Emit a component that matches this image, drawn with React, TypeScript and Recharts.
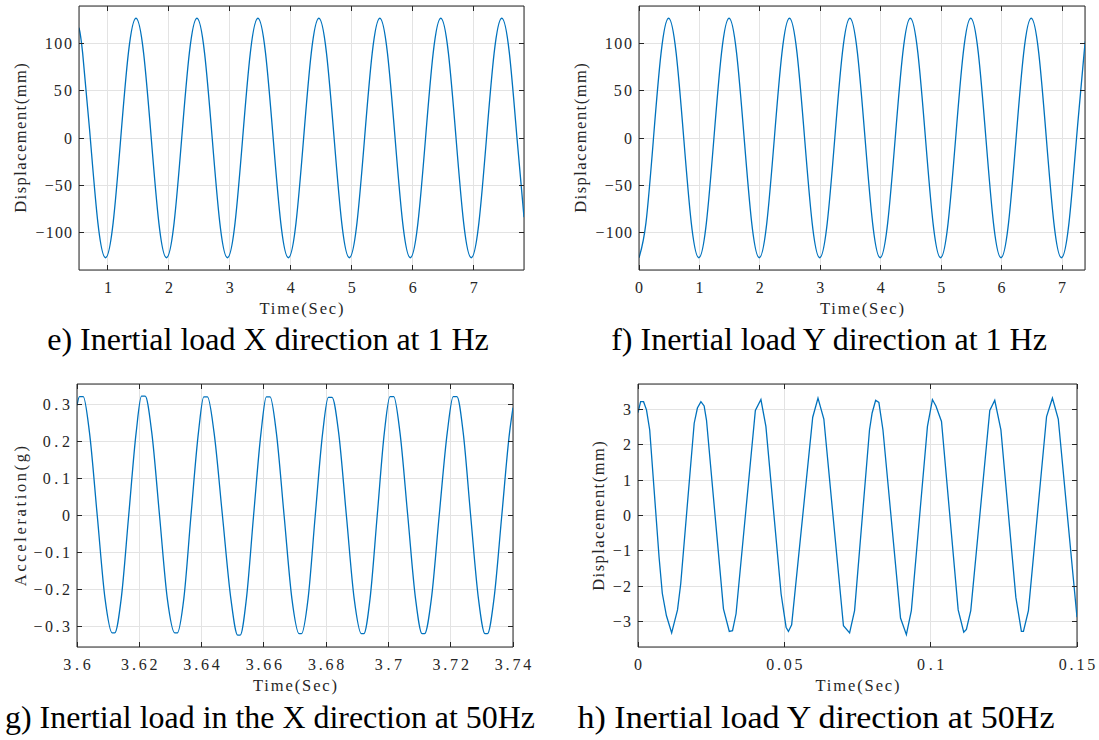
import React from 'react'
import { LineChart, Line, XAxis, YAxis, CartesianGrid, ReferenceLine } from 'recharts'

// e) inertial load, X direction, 1 Hz  (displacement, mm)
const eTime = [
  0.525, 0.585, 0.71, 0.835,
  0.96, 1.085, 1.21, 1.335, 1.46, 1.585, 1.71, 1.835,
  1.96, 2.085, 2.21, 2.335, 2.46, 2.585, 2.71, 2.835,
  2.96, 3.085, 3.21, 3.335, 3.46, 3.585, 3.71, 3.835,
  3.96, 4.085, 4.21, 4.335, 4.46, 4.585, 4.71, 4.835,
  4.96, 5.085, 5.21, 5.335, 5.46, 5.585, 5.71, 5.835,
  5.96, 6.085, 6.21, 6.335, 6.46, 6.585, 6.71, 6.835,
  6.96, 7.085, 7.21, 7.335, 7.46, 7.585, 7.71, 7.825,
]
const eDisp = [
  117, 90, 0, -90,
  -127, -90, 0, 90, 127, 90, 0, -90,
  -127, -90, 0, 90, 127, 90, 0, -90,
  -127, -90, 0, 90, 127, 90, 0, -90,
  -127, -90, 0, 90, 127, 90, 0, -90,
  -127, -90, 0, 90, 127, 90, 0, -90,
  -127, -90, 0, 90, 127, 90, 0, -90,
  -127, -90, 0, 90, 127, 90, 0, -84,
]

// f) inertial load, Y direction, 1 Hz
const fTime = [
  0,
  0.115, 0.24, 0.365, 0.49, 0.615, 0.74, 0.865, 0.99,
  1.115, 1.24, 1.365, 1.49, 1.615, 1.74, 1.865, 1.99,
  2.115, 2.24, 2.365, 2.49, 2.615, 2.74, 2.865, 2.99,
  3.115, 3.24, 3.365, 3.49, 3.615, 3.74, 3.865, 3.99,
  4.115, 4.24, 4.365, 4.49, 4.615, 4.74, 4.865, 4.99,
  5.115, 5.24, 5.365, 5.49, 5.615, 5.74, 5.865, 5.99,
  6.115, 6.24, 6.365, 6.49, 6.615, 6.74, 6.865, 6.99,
  7.115, 7.24, 7.365, 7.38,
]
const fDisp = [
  -127,
  -90, 0, 90, 127, 90, 0, -90, -127,
  -90, 0, 90, 127, 90, 0, -90, -127,
  -90, 0, 90, 127, 90, 0, -90, -127,
  -90, 0, 90, 127, 90, 0, -90, -127,
  -90, 0, 90, 127, 90, 0, -90, -127,
  -90, 0, 90, 127, 90, 0, -90, -127,
  -90, 0, 90, 127, 90, 0, -90, -127,
  -90, 0, 90, 98,
]

// g) inertial load, X direction, 50 Hz  (acceleration, g)
const gTime = [
  3.6, 3.6008, 3.602, 3.604, 3.6065, 3.609, 3.6113, 3.6121, 3.6142, 3.6166, 3.619,
  3.6207, 3.6219, 3.624, 3.6265, 3.629, 3.6314, 3.6322, 3.6343, 3.6366, 3.639,
  3.6407, 3.6419, 3.644, 3.6467, 3.6494, 3.6516, 3.6524, 3.6544, 3.6567, 3.6591,
  3.6608, 3.662, 3.664, 3.6665, 3.669, 3.6713, 3.6721, 3.6742, 3.6765, 3.6789,
  3.6807, 3.6819, 3.684, 3.6865, 3.689, 3.6913, 3.6921, 3.6941, 3.6964, 3.6987,
  3.7005, 3.7017, 3.7037, 3.7062, 3.7087, 3.7108, 3.7116, 3.7138, 3.7163, 3.7189,
  3.7208, 3.722, 3.724, 3.7264, 3.7289, 3.731, 3.7318, 3.7339, 3.7364, 3.7389,
  3.74,
]
const gAccel = [
  0.298, 0.322, 0.322, 0.225, 0, -0.225, -0.318, -0.318, -0.225, 0, 0.225,
  0.323, 0.323, 0.225, 0, -0.225, -0.318, -0.318, -0.225, 0, 0.225,
  0.321, 0.321, 0.225, 0, -0.225, -0.324, -0.324, -0.225, 0, 0.225,
  0.321, 0.321, 0.225, 0, -0.225, -0.32, -0.32, -0.225, 0, 0.225,
  0.32, 0.32, 0.225, 0, -0.225, -0.32, -0.32, -0.225, 0, 0.225,
  0.322, 0.322, 0.225, 0, -0.225, -0.32, -0.32, -0.225, 0, 0.225,
  0.322, 0.322, 0.225, 0, -0.225, -0.32, -0.32, -0.225, 0, 0.225,
  0.292,
]

// h) inertial load, Y direction, 50 Hz  (sampled displacement, mm)
const hTime = [
  0, 0.0009, 0.0019, 0.0029, 0.004, 0.0072, 0.0083, 0.0097, 0.0115,
  0.0135, 0.0146, 0.0192, 0.0203, 0.0215, 0.0226, 0.0234,
  0.0292, 0.0312, 0.0323, 0.0335,
  0.0401, 0.042, 0.0437,
  0.0489, 0.0506, 0.0514, 0.0525,
  0.0597, 0.0615, 0.0635,
  0.0702, 0.0723, 0.074,
  0.0791, 0.08, 0.0812, 0.0823, 0.0837,
  0.0897, 0.0917, 0.0934,
  0.0989, 0.1006, 0.1018, 0.1037,
  0.1094, 0.1113, 0.1122, 0.1137,
  0.1202, 0.1219, 0.124,
  0.1291, 0.131, 0.1317, 0.1334,
  0.1396, 0.1416, 0.1436,
  0.15,
]
const hDisp = [
  2.91, 3.22, 3.22, 2.99, 2.42, -1.18, -2.2, -2.83, -3.32,
  -2.67, -1.93, 2.61, 3.04, 3.22, 3.1, 2.7,
  -2.64, -3.28, -3.26, -2.78,
  2.97, 3.28, 2.52,
  -2.22, -3.16, -3.28, -3.09,
  2.78, 3.32, 2.73,
  -3.12, -3.32, -2.69,
  2.42, 2.9, 3.26, 3.2, 2.42,
  -2.9, -3.37, -2.69,
  2.52, 3.28, 3.1, 2.66,
  -2.67, -3.3, -3.22, -2.69,
  2.97, 3.26, 2.42,
  -2.31, -3.28, -3.28, -2.69,
  2.8, 3.32, 2.73,
  -2.88,
]

const oneHzTicks = [-100, -50, 0, 50, 100]
const eXTicks = [1, 2, 3, 4, 5, 6, 7]
const fXTicks = [0, 1, 2, 3, 4, 5, 6, 7]
const gXTicks = [3.6, 3.62, 3.64, 3.66, 3.68, 3.7, 3.72, 3.74]
const gYTicks = [-0.3, -0.2, -0.1, 0, 0.1, 0.2, 0.3]
const hXTicks = [0, 0.05, 0.1, 0.15]
const hYTicks = [-3, -2, -1, 0, 1, 2, 3]

const AXIS = '#262626'
const GRID = '#e3e3e3'
const BLUE = '#0072BD'
const SERIF = '"Liberation Serif", "Times New Roman", serif'

// axis text is spread out to a fixed pitch per character, like the half-width CJK font
const TICK_PITCH = 9.1
const LABEL_PITCH = 9.35

const fmt = (v: number) => String(Math.round(v * 1000) / 1000).replace('-', '\u2212')

type Rect = { left: number; top: number; right: number; bottom: number }
type Cell = { x: number; y: number; w: number; h: number }

interface PanelProps {
  time: number[]
  values: number[]
  xDomain: [number, number]
  yDomain: [number, number]
  xTicks: number[]
  yTicks: number[]
  plot: Rect
  cell: Cell
  curve: 'natural' | 'monotone' | 'linear'
}

function TickText({ x, y, anchor, label }: { x: number; y: number; anchor: 'middle' | 'end'; label: string }) {
  const props = label.length > 1 ? { textLength: label.length * TICK_PITCH, lengthAdjust: 'spacing' as const } : {}
  return (
    <text x={x} y={y} textAnchor={anchor} fontFamily={SERIF} fontSize={16} fill={AXIS} {...props}>
      {label}
    </text>
  )
}

function Panel({ time, values, xDomain, yDomain, xTicks, yTicks, plot, cell, curve }: PanelProps) {
  const data = time.map((t, i) => ({ t, v: values[i] }))
  const yw = 60
  const xh = 30
  const margin = {
    left: plot.left - cell.x - yw,
    top: plot.top - cell.y,
    right: cell.x + cell.w - plot.right,
    bottom: cell.y + cell.h - plot.bottom - xh,
  }
  // plot edges in the chart's own coordinates
  const L = plot.left - cell.x
  const R = plot.right - cell.x
  const T = plot.top - cell.y
  const B = plot.bottom - cell.y

  // matlab style: ticks point inwards on all four sides
  const xTick = ({ x, payload }: any) => (
    <g>
      <line x1={x} x2={x} y1={B} y2={B - 5} stroke={AXIS} shapeRendering="crispEdges" />
      <line x1={x} x2={x} y1={T} y2={T + 5} stroke={AXIS} shapeRendering="crispEdges" />
      <TickText x={x} y={B + 23} anchor="middle" label={fmt(payload.value)} />
    </g>
  )
  const yTick = ({ y, payload }: any) => (
    <g>
      <line x1={L} x2={L + 5} y1={y} y2={y} stroke={AXIS} shapeRendering="crispEdges" />
      <line x1={R} x2={R - 5} y1={y} y2={y} stroke={AXIS} shapeRendering="crispEdges" />
      <TickText x={L - 7} y={y + 5.5} anchor="end" label={fmt(payload.value)} />
    </g>
  )

  return (
    <div style={{ position: 'absolute', left: cell.x, top: cell.y }}>
      <LineChart width={cell.w} height={cell.h} data={data} margin={margin}>
        <CartesianGrid stroke={GRID} shapeRendering="crispEdges" />
        <XAxis
          dataKey="t"
          type="number"
          domain={xDomain}
          ticks={xTicks}
          interval={0}
          allowDataOverflow
          height={xh}
          tickSize={0}
          tickMargin={0}
          tickLine={false}
          tick={xTick}
          axisLine={{ stroke: AXIS }}
        />
        <YAxis
          type="number"
          domain={yDomain}
          ticks={yTicks}
          interval={0}
          allowDataOverflow
          width={yw}
          tickSize={0}
          tickMargin={0}
          tickLine={false}
          tick={yTick}
          axisLine={{ stroke: AXIS }}
        />
        <ReferenceLine y={yDomain[1]} stroke={AXIS} />
        <ReferenceLine x={xDomain[1]} stroke={AXIS} />
        <Line
          dataKey="v"
          type={curve}
          stroke={BLUE}
          strokeWidth={1.3}
          dot={false}
          activeDot={false}
          isAnimationActive={false}
        />
      </LineChart>
    </div>
  )
}

const plotE: Rect = { left: 79, top: 6, right: 524, bottom: 270 }
const plotF: Rect = { left: 639, top: 6, right: 1085, bottom: 270 }
const plotG: Rect = { left: 77, top: 384, right: 513, bottom: 647 }
const plotH: Rect = { left: 638, top: 384, right: 1077, bottom: 647 }

const axisText = { fontFamily: SERIF, fontSize: 16.5, fill: AXIS }
const captionText = { fontFamily: SERIF, fontSize: 32, fill: '#000' }

function YLabel({ x, y, text }: { x: number; y: number; text: string }) {
  return (
    <text
      x={x}
      y={y}
      transform={`rotate(-90 ${x} ${y})`}
      textAnchor="middle"
      dominantBaseline="central"
      textLength={text.length * LABEL_PITCH}
      lengthAdjust="spacing"
      {...axisText}
    >
      {text}
    </text>
  )
}

function XLabel({ plot }: { plot: Rect }) {
  const cx = (plot.left + plot.right) / 2
  const text = 'Time(Sec)'
  return (
    <text x={cx} y={plot.bottom + 44} textAnchor="middle" textLength={text.length * LABEL_PITCH} lengthAdjust="spacing" {...axisText}>
      {text}
    </text>
  )
}

export default function App() {
  return (
    <div style={{ position: 'absolute', left: 0, top: 0, width: 1099, height: 740, background: '#fff', overflow: 'hidden' }}>
      <Panel
        time={eTime} values={eDisp} xDomain={[0.525, 7.825]} yDomain={[-140, 140]}
        xTicks={eXTicks} yTicks={oneHzTicks} plot={plotE}
        cell={{ x: 0, y: 0, w: 549, h: 300 }} curve="natural"
      />
      <Panel
        time={fTime} values={fDisp} xDomain={[0, 7.38]} yDomain={[-140, 140]}
        xTicks={fXTicks} yTicks={oneHzTicks} plot={plotF}
        cell={{ x: 550, y: 0, w: 549, h: 300 }} curve="natural"
      />
      <Panel
        time={gTime} values={gAccel} xDomain={[3.6, 3.74]} yDomain={[-0.356, 0.356]}
        xTicks={gXTicks} yTicks={gYTicks} plot={plotG}
        cell={{ x: 0, y: 370, w: 549, h: 310 }} curve="monotone"
      />
      <Panel
        time={hTime} values={hDisp} xDomain={[0, 0.15]} yDomain={[-3.72, 3.72]}
        xTicks={hXTicks} yTicks={hYTicks} plot={plotH}
        cell={{ x: 550, y: 370, w: 549, h: 310 }} curve="linear"
      />
      <svg width={1099} height={740} style={{ position: 'absolute', left: 0, top: 0, pointerEvents: 'none' }}>
        <YLabel x={20} y={138} text="Displacement(mm)" />
        <YLabel x={580} y={138} text="Displacement(mm)" />
        <YLabel x={20} y={516} text="Acceleration(g)" />
        <YLabel x={598} y={516} text="Displacement(mm)" />
        <XLabel plot={plotE} />
        <XLabel plot={plotF} />
        <XLabel plot={plotG} />
        <XLabel plot={plotH} />
        <text x={268} y={350} textAnchor="middle" {...captionText}>e) Inertial load X direction at 1 Hz</text>
        <text x={829} y={350} textAnchor="middle" {...captionText}>f) Inertial load Y direction at 1 Hz</text>
        <text x={270} y={728} textAnchor="middle" textLength={530} lengthAdjust="spacingAndGlyphs" {...captionText}>
          g) Inertial load in the X direction at 50Hz
        </text>
        <text x={816} y={728} textAnchor="middle" textLength={477} lengthAdjust="spacingAndGlyphs" {...captionText}>
          h) Inertial load Y direction at 50Hz
        </text>
      </svg>
    </div>
  )
}
